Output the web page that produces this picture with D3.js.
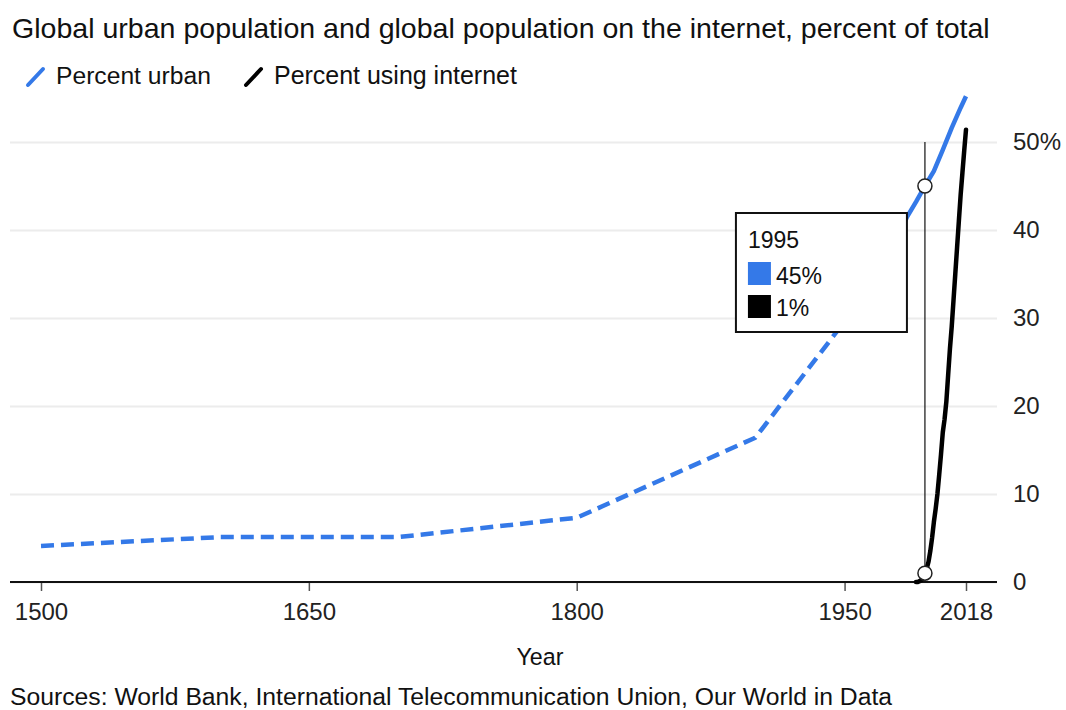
<!DOCTYPE html>
<html>
<head>
<meta charset="utf-8">
<script src="https://cdn.jsdelivr.net/npm/d3@7"></script>
<style>
  body { margin: 0; background: #fff; }
  svg { display: block; font-family: "Liberation Sans", Arial, Helvetica, sans-serif; }
</style>
</head>
<body>
<svg id="chart" width="1066" height="710"></svg>
<script>
// Share of world population living in cities: long-run estimates (dashed)
const urbanHistYears = [1500, 1600, 1700, 1800, 1900, 1950, 1960];
const urbanHistValues = [4.1, 5.1, 5.1, 7.3, 16.4, 29.6, 33.6];
// Share of world population living in cities: annual series (solid)
const urbanYears = [1960, 1970, 1980, 1985, 1990, 1995, 2000, 2005, 2010, 2015, 2018];
const urbanValues = [33.6, 36.6, 39.3, 41.5, 43.2, 45, 46.7, 49.1, 51.6, 53.9, 55.2];
// Share of world population using the internet
const internetYears = [1990, 1991, 1992, 1993, 1994, 1995, 1996, 1997, 1998, 1999, 2000, 2001, 2002, 2003, 2004,
  2005, 2006, 2007, 2008, 2009, 2010, 2011, 2012, 2013, 2014, 2015, 2016, 2017, 2018];
const internetValues = [0, 0, 0.1, 0.2, 0.4, 1, 1.5, 2.3, 3.5, 5, 6.8, 8.3, 10, 12.2, 14.5,
  17, 18.5, 20.5, 23.5, 26.5, 29, 32, 35, 38, 41, 44, 46.5, 49, 51.4];

const xTickValues = [1500, 1650, 1800, 1950, 2018];
const yTickValues = [0, 10, 20, 30, 40, 50];
const seriesNames = ["Percent urban", "Percent using internet"];
const highlightYear = 1995;

const titleText = "Global urban population and global population on the internet, percent of total";
const xAxisTitle = "Year";
const sourceText = "Sources: World Bank, International Telecommunication Union, Our World in Data";

const BLUE = "#3479e8";
const BLACK = "#000";
const TICK_FONT = 24;

const svg = d3.select("#chart");

const plotLeft = 10, plotRight = 997;
const x = d3.scaleLinear().domain([1500, 2018]).range([41, 966]);
const y = d3.scaleLinear().domain([0, 50]).range([582, 142]);

// fit a text element's font size to a target width
function fit(sel, width) {
  const node = sel.node();
  const w = node.getComputedTextLength();
  const fs = parseFloat(sel.attr("font-size"));
  sel.attr("font-size", (fs * width / w).toFixed(2));
  return sel;
}

// Title
fit(svg.append("text").attr("x", 12).attr("y", 38).attr("font-size", 23)
  .attr("fill", "#111").text(titleText), 978);

// Legend
const legend = svg.append("g");
const legendItems = [
  { name: seriesNames[0], color: BLUE, x: 27, tx: 56, w: 155 },
  { name: seriesNames[1], color: BLACK, x: 245, tx: 274, w: 243 }
];
legendItems.forEach(d => {
  legend.append("line").attr("x1", d.x + 1).attr("y1", 85).attr("x2", d.x + 16).attr("y2", 69)
    .attr("stroke", d.color).attr("stroke-width", 4).attr("stroke-linecap", "round");
  fit(legend.append("text").attr("x", d.tx).attr("y", 84).attr("font-size", 20)
    .attr("fill", "#111").text(d.name), d.w);
});

// Horizontal grid and right-hand value axis
const yAxis = d3.axisRight(y)
  .tickValues(yTickValues)
  .tickSizeInner(-(plotRight - plotLeft))
  .tickSizeOuter(0)
  .tickPadding(16)
  .tickFormat(d => d === 50 ? d + "%" : d);
const gy = svg.append("g").attr("transform", `translate(${plotRight},0)`).call(yAxis);
gy.select(".domain").remove();
gy.selectAll(".tick line").attr("stroke", "#ececec").attr("stroke-width", 2);
gy.selectAll(".tick text").attr("font-size", TICK_FONT).attr("fill", "#222")
  .attr("font-family", "Liberation Sans, Arial, sans-serif");

// Bottom axis
const xAxis = d3.axisBottom(x).tickValues(xTickValues).tickFormat(d3.format("d"))
  .tickSizeInner(9).tickSizeOuter(0).tickPadding(12);
const gx = svg.append("g").attr("transform", `translate(0,${y(0)})`).call(xAxis);
gx.select(".domain").remove();
gx.selectAll(".tick line").attr("stroke", "#555").attr("stroke-width", 1.5);
gx.selectAll(".tick text").attr("font-size", TICK_FONT).attr("fill", "#222")
  .attr("font-family", "Liberation Sans, Arial, sans-serif");
svg.append("line").attr("x1", plotLeft).attr("x2", plotRight)
  .attr("y1", y(0)).attr("y2", y(0)).attr("stroke", "#111").attr("stroke-width", 2);

// Series lines
const line = d3.line().x(d => x(d[0])).y(d => y(d[1]));
const histData = d3.zip(urbanHistYears, urbanHistValues);
const urbanData = d3.zip(urbanYears, urbanValues);
const internetData = d3.zip(internetYears, internetValues);

svg.append("path").datum(histData).attr("d", line)
  .attr("fill", "none").attr("stroke", BLUE).attr("stroke-width", 4.5)
  .attr("stroke-dasharray", "13,7");
svg.append("path").datum(urbanData).attr("d", line)
  .attr("fill", "none").attr("stroke", BLUE).attr("stroke-width", 4.5)
  .attr("stroke-linejoin", "round");
svg.append("path").datum(internetData).attr("d", line)
  .attr("fill", "none").attr("stroke", BLACK).attr("stroke-width", 4.5)
  .attr("stroke-linejoin", "round").attr("stroke-linecap", "round");

// Hover marker
const hu = urbanValues[urbanYears.indexOf(highlightYear)];
const hi = internetValues[internetYears.indexOf(highlightYear)];
const hx = x(highlightYear);
svg.append("line").attr("x1", hx).attr("x2", hx).attr("y1", y(50)).attr("y2", y(0))
  .attr("stroke", "#111").attr("stroke-width", 1.2);
[hu, hi].forEach(v => {
  svg.append("circle").attr("cx", hx).attr("cy", y(v)).attr("r", 7)
    .attr("fill", "#fff").attr("stroke", "#222").attr("stroke-width", 1.5);
});

// Tooltip
const tipW = 171, tipH = 119;
const tipX = hx - 18 - tipW, tipY = y(hu) + 27;
const tip = svg.append("g").attr("transform", `translate(${tipX},${tipY})`);
tip.append("rect").attr("width", tipW).attr("height", tipH)
  .attr("fill", "#fff").attr("stroke", "#111").attr("stroke-width", 2);
tip.append("text").attr("x", 12).attr("y", 35).attr("font-size", 23).attr("fill", "#111")
  .text(highlightYear);
[[hu, BLUE], [hi, BLACK]].forEach((d, i) => {
  tip.append("rect").attr("x", 12).attr("y", 49 + i * 33).attr("width", 23).attr("height", 23)
    .attr("fill", d[1]);
  tip.append("text").attr("x", 40).attr("y", 71 + i * 32).attr("font-size", 23).attr("fill", "#111")
    .text(Math.round(d[0]) + "%");
});

// Axis title and sources
fit(svg.append("text").attr("x", 540).attr("y", 665).attr("text-anchor", "middle")
  .attr("font-size", 22).attr("fill", "#111").text(xAxisTitle), 47);
fit(svg.append("text").attr("x", 10).attr("y", 705).attr("font-size", 20)
  .attr("fill", "#111").text(sourceText), 882);
</script>
</body>
</html>
